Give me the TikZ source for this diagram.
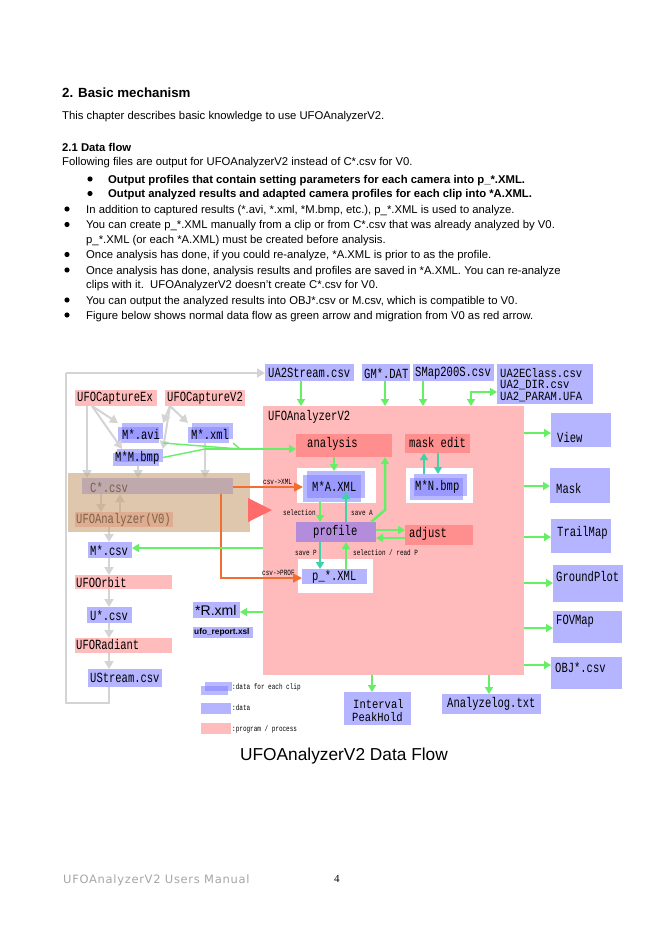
\documentclass[tikz,border=0pt]{standalone}
\usepackage{fontspec}
\setmainfont{Liberation Sans}
\newfontfamily\gf[FakeStretch=0.75]{Liberation Mono}
\newfontfamily\gfn[FakeStretch=0.84]{Liberation Mono}
\newfontfamily\ftf[LetterSpace=6]{DejaVu Sans}
\newfontfamily\srf{Liberation Serif}
\usetikzlibrary{arrows.meta,fit}
\newcommand\fsz[1]{\fontsize{#1}{#1}\selectfont}
\definecolor{datab}{HTML}{B4B4FF}
\definecolor{procp}{HTML}{FFBCBC}
\definecolor{bigp}{HTML}{FFBBBB}
\definecolor{deepp}{HTML}{FF8E8E}
\definecolor{purp}{HTML}{B48CDC}
\definecolor{tanc}{HTML}{C8A375}
\definecolor{gcol}{HTML}{66EE66}
\definecolor{tcol}{HTML}{3CD2AA}
\definecolor{ocol}{HTML}{F06E32}
\definecolor{grc}{HTML}{D4D4D4}
\definecolor{clipc}{HTML}{8080FF}
\definecolor{trired}{HTML}{FF6A6A}
\newcommand\bx[6]{\node[#2,fit={(#3,#4)(#5,#6)},inner sep=0pt,outer sep=0pt] (#1) {};}
\newcommand\cbx[5]{\fill[clipc,opacity=0.55] (#2,#3+4) rectangle (#4-4,#5);
  \fill[clipc,opacity=0.55] (#2+4,#3) rectangle (#4,#5-4);
  \node[fit={(#2,#3)(#4,#5)},inner sep=0pt,outer sep=0pt] (#1) {};}
\tikzset{
  txt/.style={inner sep=0pt,anchor=base west,font=\fsz{11.3}},
  lbl/.style={inner sep=0pt,anchor=west,font=\gf\fsz{14}},
  nlbl/.style={inner sep=0pt,anchor=west,font=\gfn\fsz{12.5}},
  slbl/.style={inner sep=0pt,anchor=west,font=\gf\fsz{8}},
  garr/.style={draw=gcol,line width=2.5pt,-{Triangle[width=8pt,length=7pt]}},
  gbi/.style={draw=gcol,line width=2.5pt,{Triangle[width=8pt,length=7pt]}-{Triangle[width=8pt,length=7pt]}},
  gthin/.style={draw=gcol,line width=1.4pt},
  tarr/.style={draw=tcol,line width=2.5pt,-{Triangle[width=8pt,length=7pt]}},
  oarr/.style={draw=ocol,line width=1.6pt,-{Triangle[width=9pt,length=9pt]}},
  grarr/.style={draw=grc,line width=2pt,-{Triangle[width=9pt,length=8pt]}},
  grline/.style={draw=grc,line width=2pt},
  dot/.style={fill=black}
}
\begin{document}
\begin{tikzpicture}[x=1pt,y=-1pt]
\useasboundingbox (0,0) rectangle (662,936);
\fill[white] (0,0) rectangle (662,936);

% ---------- body text ----------
\node[txt,font=\bfseries\fsz{13.3}] (h1) at (62,98) {2. Basic mechanism};
\node[txt] (p1) at (62,120) {This chapter describes basic knowledge to use UFOAnalyzerV2.};
\node[txt,font=\bfseries\fsz{11.3}] (h2) at (62,151.5) {2.1 Data flow};
\node[txt] (p2) at (62,166) {Following files are output for UFOAnalyzerV2 instead of C*.csv for V0.};
\fill[dot] (90,179) circle (2.6);
\node[txt,font=\bfseries\fsz{11.3}] (bb1) at (108,183) {Output profiles that contain setting parameters for each camera into p\_*.XML.};
\fill[dot] (90,193.5) circle (2.6);
\node[txt,font=\bfseries\fsz{11.3}] (bb2) at (108,197.5) {Output analyzed results and adapted camera profiles for each clip into *A.XML.};
\fill[dot] (67,209) circle (2.6);
\node[txt] (b3) at (86,213) {In addition to captured results (*.avi, *.xml, *M.bmp, etc.), p\_*.XML is used to analyze.};
\fill[dot] (67,224.5) circle (2.6);
\node[txt] (b4) at (86,228.5) {You can create p\_*.XML manually from a clip or from C*.csv that was already analyzed by V0.};
\node[txt] (b4b) at (86,243) {p\_*.XML (or each *A.XML) must be created before analysis.};
\fill[dot] (67,254.5) circle (2.6);
\node[txt] (b5) at (86,258.5) {Once analysis has done, if you could re-analyze, *A.XML is prior to as the profile.};
\fill[dot] (67,270) circle (2.6);
\node[txt] (b6) at (86,274) {Once analysis has done, analysis results and profiles are saved in *A.XML. You can re-analyze};
\node[txt] (b6b) at (86,288.5) {clips with it.\ \ UFOAnalyzerV2 doesn’t create C*.csv for V0.};
\fill[dot] (67,300) circle (2.6);
\node[txt] (b7) at (86,304) {You can output the analyzed results into OBJ*.csv or M.csv, which is compatible to V0.};
\fill[dot] (67,315) circle (2.6);
\node[txt] (b8) at (86,319) {Figure below shows normal data flow as green arrow and migration from V0 as red arrow.};

% ---------- diagram ----------
\coordinate (lp1) at (109,703);
\coordinate (lp2) at (66,703);
\coordinate (lp3) at (66,373);

% big analyzer area
\bx{bigbox}{fill=bigp}{263}{406}{524}{675}
\node[lbl] (bigbox-t) at (268,417) {UFOAnalyzerV2};

% top data
\bx{ua2s}{fill=datab}{265}{364}{354}{381}
\node[lbl] (ua2s-t) at (268,373) {UA2Stream.csv};
\bx{gm}{fill=datab}{362}{364}{410}{381}
\node[lbl] (gm-t) at (364,373) {GM*.DAT};
\bx{smap}{fill=datab}{413}{364}{494}{381}
\node[lbl] (smap-t) at (415,373) {SMap200S.csv};
\bx{ua2e}{fill=datab}{497}{364}{593}{404}
\node[nlbl] (ua2e-t1) at (500,373) {UA2EClass.csv};
\node[nlbl] (ua2e-t2) at (500,385) {UA2\_DIR.csv};
\node[nlbl] (ua2e-t3) at (500,397) {UA2\_PARAM.UFA};

% white boxes inside
\bx{wA}{fill=white}{297}{468}{376}{503}
\bx{wN}{fill=white}{406}{468}{473}{503}
\bx{wP}{fill=white}{298}{559}{373}{593}

% inner process nodes
\bx{analysis}{fill=deepp}{296}{434}{392}{457}
\node[lbl] (analysis-t) at (307,444) {analysis};
\bx{mask}{fill=deepp}{405}{434}{470}{453}
\node[lbl] (mask-t) at (409,443) {mask edit};
\bx{profile}{fill=purp}{296}{522}{376}{542}
\node[lbl] (profile-t) at (313,532) {profile};
\bx{adjust}{fill=deepp}{405}{525}{473}{545}
\node[lbl] (adjust-t) at (409,534) {adjust};
\cbx{mxa}{303}{471}{365}{502}
\node[lbl] (mxa-t) at (312,486) {M*A.XML};
\cbx{mxn}{410}{474}{467}{500}
\node[lbl] (mxn-t) at (415,487) {M*N.bmp};
\bx{pxml}{fill=datab}{302}{569}{367}{584}
\node[lbl] (pxml-t) at (312,577) {p\_*.XML};

% left side
\bx{capex}{fill=procp}{75}{390}{157}{406}
\node[lbl] (capex-t) at (77,398) {UFOCaptureEx};
\bx{capv2}{fill=procp}{165}{390}{245}{406}
\node[lbl] (capv2-t) at (167,398) {UFOCaptureV2};
\cbx{mavi}{118}{423}{163}{443}
\node[lbl] (mavi-t) at (122,434) {M*.avi};
\cbx{mxml}{188}{423}{233}{443}
\node[lbl] (mxml-t) at (191,434) {M*.xml};
\cbx{mmb}{113}{449}{163}{466}
\node[lbl] (mmb-t) at (115,458) {M*M.bmp};

\bx{ccsv}{fill=datab}{82}{478}{233}{494}
\node[lbl] (ccsv-t) at (90,487) {C*.csv};
\bx{v0}{fill=procp}{75}{512}{173}{527}
\node[lbl] (v0-t) at (76,520) {UFOAnalyzer(V0)};

\bx{mcsv}{fill=datab}{88}{542}{132}{558}
\node[lbl] (mcsv-t) at (90,550) {M*.csv};
\bx{orbit}{fill=procp}{75}{575}{172}{589}
\node[lbl] (orbit-t) at (76,582) {UFOOrbit};
\bx{ucsv}{fill=datab}{87}{607}{132}{623}
\node[lbl] (ucsv-t) at (90,615) {U*.csv};
\bx{rad}{fill=procp}{75}{638}{172}{653}
\node[lbl] (rad-t) at (76,645) {UFORadiant};
\bx{ustr}{fill=datab}{88}{669}{162}{687}
\node[lbl] (ustr-t) at (90,678) {UStream.csv};

\bx{rxml}{fill=datab}{193}{602}{240}{618}
\node[inner sep=0pt,anchor=west,font=\fsz{14}] (rxml-t) at (195,610) {*R.xml};
\bx{xsl}{fill=datab}{193}{627}{253}{638}
\node[inner sep=0pt,anchor=west,font=\bfseries\fsz{8.3}] (xsl-t) at (194,632.5) {ufo\_report.xsl};

% gray arrows
\draw[grline] (ustr.south -| lp1) -- (lp1) -- (lp2) -- (lp3);
\draw[grarr] (lp3) -- (ua2s.west |- lp3);
\draw[grarr] (capex.south -| 92,0) -- (mavi.north west);
\draw[grarr] (capex.south -| 92,0) -- (mmb.north west -| 122,0);
\draw[grarr] (capex.south -| 87,0) -- (ccsv.north -| 87,0);
\draw[grarr] (capv2.south -| 170,0) -- (mxml.north west);
\draw[grarr] (capv2.south -| 170,0) -- (mavi.north east);
\draw[grarr] (capv2.south -| 170,0) -- (mmb.north east);
\draw[grarr] (mmb.south -| 138,0) -- (ccsv.north -| 138,0);
\draw[grarr] (mxml.south -| 205,0) -- (ccsv.north -| 205,0);
\draw[grarr] (ccsv.south -| 101,0) -- (v0.north -| 101,0);
\draw[grarr] (v0.north -| 120,0) -- (ccsv.south -| 120,0);
\draw[grarr] (v0.south -| 109,0) -- (mcsv.north -| 109,0);
\draw[grarr] (mcsv.south -| 109,0) -- (orbit.north -| 109,0);
\draw[grarr] (orbit.south -| 109,0) -- (ucsv.north -| 109,0);
\draw[grarr] (ucsv.south -| 109,0) -- (rad.north -| 109,0);
\draw[grarr] (rad.south -| 109,0) -- (ustr.north -| 109,0);

% tan overlay for V0 area
\fill[tanc,opacity=0.6] (68,473) rectangle (250,532);
\node[fit={(68,473)(250,532)},inner sep=0pt] (v0area) {};
% red migration triangle
\fill[trired] (248,498) -- (272,510) -- (248,522) -- cycle;

% orange migration arrows
\draw[oarr] (ccsv.east |- 0,487) -- (mxa.west |- 0,487);
\node[slbl] (lx) at (263,482) {csv->XML};
\draw[oarr] (ccsv.south -| 221,0) -- (221,578) -- (pxml.west |- 0,578);
\node[slbl] (lp) at (262,573) {csv->PROF};

% green inputs
\draw[garr] (ua2s.south -| 301,0) -- (bigbox.north -| 301,0);
\draw[garr] (gm.south -| 385,0) -- (bigbox.north -| 385,0);
\draw[garr] (smap.south -| 423,0) -- (bigbox.north -| 423,0);
\draw[gbi] (bigbox.north -| 471,0) -- (471,392) -- (ua2e.west |- 0,392);

\coordinate (m1) at (205,449);
\coordinate (m2) at (240,449);
\draw[gthin] (mavi.south east) -- (m2);
\draw[gthin] (mmb.east) -- (m1);
\draw[gthin] (mxml.south east) -- (m2);
\draw[gthin] (m1) -- (bigbox.west |- m1);
\draw[garr] (bigbox.west |- m1) -- (analysis.west |- m1);

% inside analyzer
\draw[garr] (analysis.south -| 334,0) -- (mxa.north -| 334,0);
\draw[garr] (mxa.south -| 320,0) -- (profile.north -| 320,0);
\draw[tarr] (profile.north -| 346,0) -- (346,492);
\node[slbl] (lsel) at (283,513) {selection};
\node[slbl] (lsa) at (351,513) {save A};
\draw[garr] ([xshift=-5pt]profile.north east) -- (385,510) -- (analysis.south -| 385,0);
\draw[tarr] (mxn.north -| 424,0) -- (mask.south -| 424,0);
\draw[tarr] (mask.south -| 438,0) -- (mxn.north -| 438,0);
\draw[garr] (profile.east |- 0,530) -- (adjust.west |- 0,530);
\draw[garr] (adjust.west |- 0,538) -- (profile.east |- 0,538);
\draw[tarr] (profile.south -| 320,0) -- (pxml.north -| 320,0);
\draw[garr] (pxml.north -| 346,0) -- (profile.south -| 346,0);
\node[slbl] (lsp) at (295,553) {save P};
\node[slbl] (lsr) at (353,553) {selection / read P};

% outputs
\bx{view}{fill=datab}{551}{413}{611}{447}
\node[lbl] (view-t) at (557,437) {View};
\bx{maskout}{fill=datab}{550}{468}{610}{503}
\node[lbl] (maskout-t) at (556,488) {Mask};
\bx{trail}{fill=datab}{551}{519}{611}{553}
\node[lbl] (trail-t) at (557,533) {TrailMap};
\bx{ground}{fill=datab}{553}{565}{623}{602}
\node[lbl] (ground-t) at (556,577) {GroundPlot};
\bx{fov}{fill=datab}{553}{611}{622}{643}
\node[lbl] (fov-t) at (556,621) {FOVMap};
\bx{obj}{fill=datab}{551}{657}{622}{689}
\node[lbl] (obj-t) at (555,667) {OBJ*.csv};
\bx{alog}{fill=datab}{442}{694}{541}{714}
\node[lbl] (alog-t) at (447,704) {Analyzelog.txt};
\bx{ival}{fill=datab}{344}{692}{411}{725}
\node[nlbl] (ival-t1) at (353,704) {Interval};
\node[nlbl] (ival-t2) at (352,717) {PeakHold};

\draw[garr] (bigbox.east |- 0,433) -- (view.west |- 0,433);
\draw[garr] (bigbox.east |- 0,486) -- (maskout.west |- 0,486);
\draw[garr] (bigbox.east |- 0,537) -- (trail.west |- 0,537);
\draw[garr] (bigbox.east |- 0,583) -- (ground.west |- 0,583);
\draw[garr] (bigbox.east |- 0,628) -- (fov.west |- 0,628);
\draw[garr] (bigbox.east |- 0,665) -- (obj.west |- 0,665);
\draw[garr] (bigbox.south -| 489,0) -- (alog.north -| 489,0);
\draw[garr] (bigbox.south -| 372,0) -- (ival.north -| 372,0);
\draw[garr] (bigbox.west |- 0,612) -- (rxml.east |- 0,612);
\draw[garr] (bigbox.west |- 0,548) -- (mcsv.east |- 0,548);

% legend
\cbx{leg1}{201}{682}{232}{695}
\node[slbl] (leg1-t) at (232,687) {:data for each clip};
\bx{leg2}{fill=datab}{201}{703}{231}{714}
\node[slbl] (leg2-t) at (232,708) {:data};
\bx{leg3}{fill=procp}{201}{723}{231}{734}
\node[slbl] (leg3-t) at (232,729) {:program / process};

% title
\node[inner sep=0pt,font=\fsz{17.3}] (title) at (344,756) {UFOAnalyzerV2 Data Flow};

% footer
\node[inner sep=0pt,anchor=west,font=\ftf\fsz{11.5},text=black!35] (foot) at (63,880) {UFOAnalyzerV2 Users Manual};
\node[inner sep=0pt,anchor=west,font=\srf\fsz{11}] (pg) at (334,879) {4};
\end{tikzpicture}
\end{document}
